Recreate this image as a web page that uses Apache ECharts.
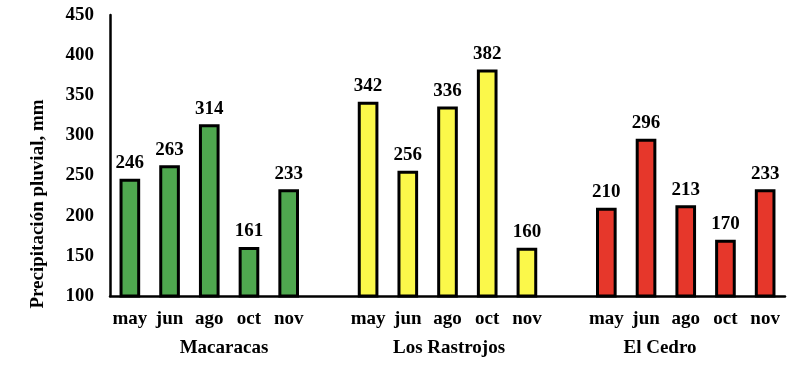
<!DOCTYPE html>
<html><head><meta charset="utf-8">
<script src="https://cdn.jsdelivr.net/npm/echarts@6/dist/echarts.min.js"></script>
<style>html,body{margin:0;padding:0;background:#fff}#c{width:810px;height:381px}</style>
</head><body><div id="c"></div>
<script>
const months = ['may','jun','ago','oct','nov'];
const sites = ['Macaracas','Los Rastrojos','El Cedro'];
const macaracas = [246,263,314,161,233];
const losRastrojos = [342,256,336,382,160];
const elCedro = [210,296,213,170,233];
const colors = ['#4fa84f','#fbf84a','#e6372b'];
const yTicks = [100,150,200,250,300,350,400,450];

const categories = [];
const data = [];
[macaracas, losRastrojos, elCedro].forEach((arr, g) => {
  if (g > 0) { categories.push(''); data.push('-'); }
  arr.forEach((v, i) => {
    categories.push(months[i]);
    data.push({value: v, itemStyle: {color: colors[g]}});
  });
});

const font = 'Liberation Serif';
const fs = 19;
const chart = echarts.init(document.getElementById('c'));
chart.setOption({
  animation: false,
  grid: {left: 110, right: 25, top: 15, bottom: 85},
  xAxis: {
    type: 'category', data: categories,
    axisLine: {lineStyle: {color: '#000', width: 2.5}},
    axisTick: {show: false},
    axisLabel: {interval: 0, margin: 14, color: '#000', fontFamily: font, fontWeight: 'bold', fontSize: fs}
  },
  yAxis: {
    type: 'value', min: yTicks[0], max: yTicks[yTicks.length-1], interval: 50,
    axisLine: {show: true, lineStyle: {color: '#000', width: 2.5}},
    axisTick: {show: false},
    splitLine: {show: false},
    axisLabel: {margin: 16, color: '#000', fontFamily: font, fontWeight: 'bold', fontSize: fs}
  },
  series: [{
    type: 'bar', data: data, barWidth: '52%',
    itemStyle: {borderColor: '#000', borderWidth: 3},
    label: {show: true, position: 'top', distance: 6, color: '#000', fontFamily: font, fontWeight: 'bold', fontSize: fs}
  }],
  graphic: [
    {type: 'text', x: 38, y: 204, rotation: Math.PI/2, style: {text: 'Precipitación pluvial, mm', fill: '#000', font: 'bold 19px "Liberation Serif"', textAlign: 'center', textVerticalAlign: 'middle'}},
    {type: 'text', x: 224, y: 348, style: {text: sites[0], fill: '#000', font: 'bold 19px "Liberation Serif"', textAlign: 'center', textVerticalAlign: 'middle'}},
    {type: 'text', x: 449, y: 348, style: {text: sites[1], fill: '#000', font: 'bold 19px "Liberation Serif"', textAlign: 'center', textVerticalAlign: 'middle'}},
    {type: 'text', x: 660, y: 348, style: {text: sites[2], fill: '#000', font: 'bold 19px "Liberation Serif"', textAlign: 'center', textVerticalAlign: 'middle'}}
  ]
});
</script></body></html>
